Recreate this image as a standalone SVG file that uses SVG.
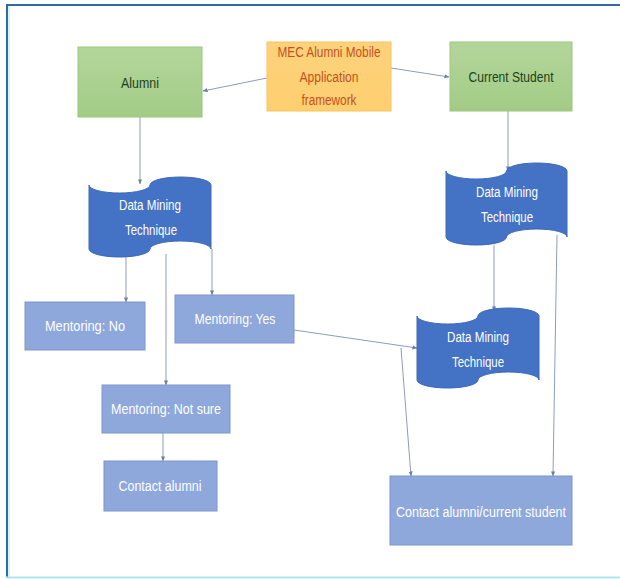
<svg xmlns="http://www.w3.org/2000/svg" width="620" height="579" viewBox="0 0 620 579">
<defs>
<marker id="ah" viewBox="0 0 6 6" refX="5.5" refY="3" markerWidth="5" markerHeight="5" orient="auto" markerUnits="userSpaceOnUse">
<path d="M0,0.5 L6,3 L0,5.5 Z" fill="#6f7f9e"/>
</marker>
<linearGradient id="g" x1="0" y1="0" x2="0" y2="1">
<stop offset="0" stop-color="#b3d69b"/>
<stop offset="1" stop-color="#a2cc86"/>
</linearGradient>
<linearGradient id="o" x1="0" y1="0" x2="0" y2="1">
<stop offset="0" stop-color="#fdd27c"/>
<stop offset="1" stop-color="#fecf6f"/>
</linearGradient>
</defs>
<style>
.conn{stroke:#8d9cbb;stroke-width:1;fill:none;marker-end:url(#ah)}
.green{fill:url(#g);stroke:#9cc580;stroke-width:1}
.orange{fill:url(#o);stroke:#f6c45e;stroke-width:1}
.dm{fill:#4472c4;stroke:#3d68b6;stroke-width:1}
.box{fill:#8ea8dc;stroke:#7d95cc;stroke-width:1}
text{font-family:"Liberation Sans",Arial,sans-serif;font-size:14px;text-anchor:middle}
.tw{fill:#ffffff}
.tg{fill:#23401a}
.to{fill:#c4501c}
</style>
<rect x="0" y="0" width="620" height="579" fill="#ffffff"/>
<g id="frame">
<line x1="6" y1="5" x2="620" y2="5" stroke="#2e6da4" stroke-width="2"/>
<line x1="7" y1="5" x2="7" y2="578" stroke="#2e6da4" stroke-width="2"/>
<line x1="9" y1="6" x2="9" y2="577" stroke="#c8f0fa" stroke-width="1.5"/>
<line x1="6" y1="577.5" x2="620" y2="577.5" stroke="#aee6f4" stroke-width="2"/>
</g>
<g id="connectors">
<line class="conn" x1="267" y1="78" x2="203" y2="91"/>
<line class="conn" x1="391" y1="68" x2="449" y2="77"/>
<line class="conn" x1="140" y1="117" x2="140" y2="184"/>
<line class="conn" x1="508" y1="111" x2="508" y2="171"/>
<line class="conn" x1="126" y1="257" x2="126" y2="302"/>
<line class="conn" x1="212" y1="249" x2="212" y2="295"/>
<line class="conn" x1="166" y1="254" x2="166" y2="385"/>
<line class="conn" x1="163" y1="433" x2="163" y2="461"/>
<line class="conn" x1="494" y1="245" x2="494" y2="311"/>
<line class="conn" x1="294" y1="330" x2="417" y2="348"/>
<line class="conn" x1="401" y1="348" x2="411" y2="476"/>
<line class="conn" x1="557" y1="235" x2="553" y2="476"/>
</g>
<g id="alumni">
<rect class="green" x="78" y="47" width="124" height="70"/>
<text class="tg" x="140" y="88" textLength="38" lengthAdjust="spacingAndGlyphs">Alumni</text>
</g>
<g id="mec">
<rect class="orange" x="267" y="42" width="124" height="69"/>
<text class="to" x="329" y="57" textLength="103" lengthAdjust="spacingAndGlyphs">MEC Alumni Mobile</text>
<text class="to" x="329" y="82" textLength="59" lengthAdjust="spacingAndGlyphs">Application</text>
<text class="to" x="329" y="105" textLength="55" lengthAdjust="spacingAndGlyphs">framework</text>
</g>
<g id="current">
<rect class="green" x="450" y="42" width="122" height="69"/>
<text class="tg" x="511" y="82" textLength="85" lengthAdjust="spacingAndGlyphs">Current Student</text>
</g>
<g id="dm1">
<path class="dm" d="M89,185 A30.5,8 0 0 0 150,185 A30.5,8 0 0 1 211,185 L211,249 A30.5,8 0 0 0 150,249 A30.5,8 0 0 1 89,249 Z"/>
<text class="tw" x="150" y="210" textLength="62" lengthAdjust="spacingAndGlyphs">Data Mining</text>
<text class="tw" x="151" y="235" textLength="52" lengthAdjust="spacingAndGlyphs">Technique</text>
</g>
<g id="dm2">
<path class="dm" d="M446,171 A30.25,8 0 0 0 506.5,171 A30.25,8 0 0 1 567,171 L567,237 A30.25,8 0 0 0 506.5,237 A30.25,8 0 0 1 446,237 Z"/>
<text class="tw" x="507" y="197" textLength="62" lengthAdjust="spacingAndGlyphs">Data Mining</text>
<text class="tw" x="507" y="222" textLength="52" lengthAdjust="spacingAndGlyphs">Technique</text>
</g>
<g id="dm3">
<path class="dm" d="M417,316 A30.5,8 0 0 0 478,316 A30.5,8 0 0 1 539,316 L539,380 A30.5,8 0 0 0 478,380 A30.5,8 0 0 1 417,380 Z"/>
<text class="tw" x="478" y="342" textLength="62" lengthAdjust="spacingAndGlyphs">Data Mining</text>
<text class="tw" x="478" y="367" textLength="52" lengthAdjust="spacingAndGlyphs">Technique</text>
</g>
<g id="m-no">
<rect class="box" x="25" y="302" width="120" height="48"/>
<text class="tw" x="85" y="331" textLength="80" lengthAdjust="spacingAndGlyphs">Mentoring: No</text>
</g>
<g id="m-yes">
<rect class="box" x="175" y="295" width="119" height="48"/>
<text class="tw" x="235" y="324" textLength="81" lengthAdjust="spacingAndGlyphs">Mentoring: Yes</text>
</g>
<g id="m-notsure">
<rect class="box" x="102" y="385" width="128" height="48"/>
<text class="tw" x="166" y="414" textLength="110" lengthAdjust="spacingAndGlyphs">Mentoring: Not sure</text>
</g>
<g id="contact-alumni">
<rect class="box" x="104" y="461" width="113" height="50"/>
<text class="tw" x="160" y="491" textLength="83" lengthAdjust="spacingAndGlyphs">Contact alumni</text>
</g>
<g id="contact-both">
<rect class="box" x="390" y="476" width="182" height="69"/>
<text class="tw" x="481" y="517" textLength="170" lengthAdjust="spacingAndGlyphs">Contact alumni/current student</text>
</g>
</svg>
